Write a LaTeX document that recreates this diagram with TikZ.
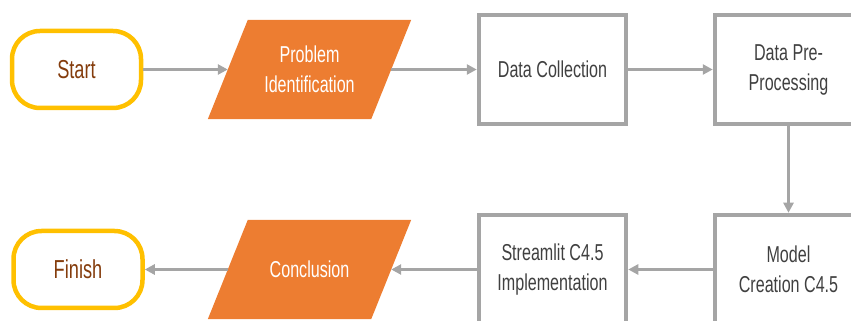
\documentclass[tikz,border=0pt]{standalone}
\usepackage{fontspec}
\setmainfont[FakeStretch=0.7]{Liberation Sans}
\usetikzlibrary{positioning,arrows.meta,backgrounds}
\definecolor{flowgray}{HTML}{A5A5A5}
\definecolor{floworange}{HTML}{ED7D31}
\definecolor{flowyellow}{HTML}{FFC000}
\definecolor{flowbrown}{HTML}{843C0C}
\definecolor{flowtext}{HTML}{404040}
\tikzset{
  term/.style={draw=flowyellow,line width=4.5pt,rounded corners=28pt,
    minimum width=129pt,minimum height=77pt,inner sep=0pt,text=flowbrown,
    font=\fontsize{26}{30}\selectfont},
  io/.style={text=white,minimum width=163pt,minimum height=99pt,
    inner sep=0pt,align=center,font=\fontsize{23}{30}\selectfont},
  proc/.style={draw=flowgray,line width=4.5pt,minimum width=147pt,
    minimum height=109pt,inner sep=0pt,align=center,text=flowtext,
    font=\fontsize{23}{30}\selectfont},
  flow/.style={-{Triangle[length=10pt,width=10pt]},line width=2.5pt,flowgray},
}
\begin{document}
\begin{tikzpicture}[x=1pt,y=1pt]
  \useasboundingbox (0,0) rectangle (851,321);
  \clip (0,0) rectangle (851,321);
  % top row
  \node[term] (start) at (76.5,251.5) {Start};
  \node[io]   (prob)  at (309.5,251.5) {Problem\\Identification};
  \node[proc] (coll)  at (552.5,251.5) {Data Collection};
  \node[proc] (prep)  at (788.5,251.5) {Data Pre-\\Processing};
  % bottom row
  \node[proc] (model)  at (788.5,51.5) {Model\\Creation C4.5};
  \node[proc] (stream) at (552.5,51.5) {Streamlit C4.5\\Implementation};
  \node[io]   (concl)  at (309.5,51.5) {Conclusion};
  \node[term] (finish) at (78,51.5) {Finish};
  % parallelogram bodies behind the text
  \begin{scope}[on background layer]
    \foreach \n in {prob,concl}
      \fill[floworange] ([xshift=20pt]\n.north west) -- ([xshift=20pt]\n.north east)
        -- ([xshift=-20pt]\n.south east) -- ([xshift=-20pt]\n.south west) -- cycle;
  \end{scope}
  \draw[flow] (start) -- (prob);
  \draw[flow] (prob) -- (coll);
  \draw[flow] (coll) -- (prep);
  \draw[flow] (prep) -- (model);
  \draw[flow] (model) -- (stream);
  \draw[flow] (stream) -- (concl);
  \draw[flow] (concl) -- (finish);
\end{tikzpicture}
\end{document}
